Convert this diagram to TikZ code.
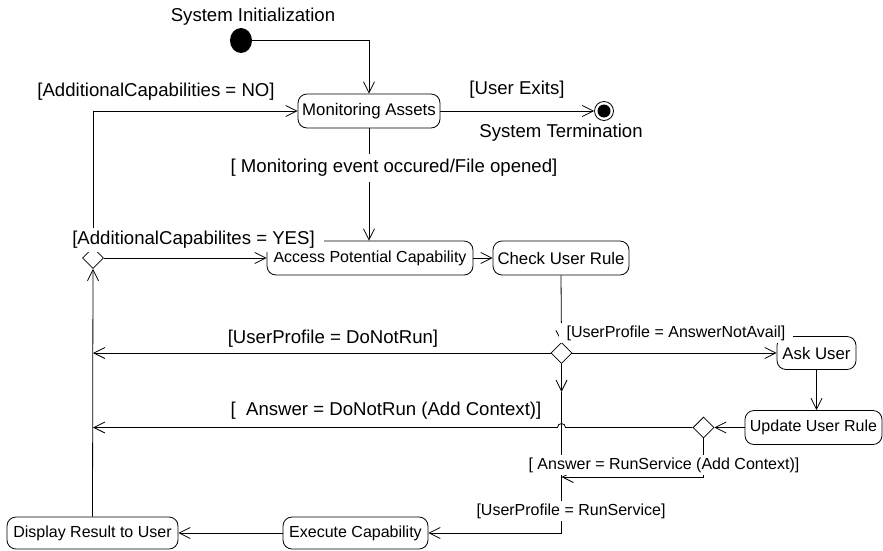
\documentclass[tikz,border=0pt]{standalone}
\usepackage{fontspec}
\setmainfont{Liberation Sans}
\usetikzlibrary{arrows.meta,shapes.geometric}

\begin{document}
\begin{tikzpicture}[x=1pt,y=-1pt,
  flow/.style={draw, line width=0.8pt, -{Straight Barb[length=11pt,width=11pt]}},
  act/.style={draw, line width=0.8pt, rounded corners=9pt, inner sep=0pt,
    align=center, font=\fontsize{16}{19}\selectfont},
  bigact/.style={act, font=\fontsize{16.8}{20}\selectfont},
  decision/.style={draw, diamond, line width=0.8pt, inner sep=0pt,
    minimum width=21pt, minimum height=21pt, fill=white},
  caption/.style={inner sep=0pt, font=\fontsize{18.6}{22}\selectfont},
  guard/.style={fill=white, inner xsep=4pt, inner ysep=3pt,
    font=\fontsize{18.6}{22}\selectfont},
  smallguard/.style={fill=white, inner xsep=4pt, inner ysep=2.5pt,
    font=\fontsize{16}{19}\selectfont}]

\useasboundingbox (0,0) rectangle (883,550);

% activities
\node[bigact, minimum width=142pt, minimum height=34pt] (mon) at (369,111) {Monitoring Assets};
\node[act, minimum width=206pt, minimum height=34pt] (acc) at (370,258) {Access Potential Capability};
\node[bigact, minimum width=136pt, minimum height=34pt] (chk) at (561,258) {Check User Rule};
\node[bigact, minimum width=79pt, minimum height=33pt] (ask) at (816.5,353) {Ask User};
\node[act, minimum width=137pt, minimum height=34pt] (upd) at (813.5,427.5) {Update User Rule};
\node[act, minimum width=171pt, minimum height=32pt] (disp) at (92.5,533) {Display Result to User};
\node[act, minimum width=145pt, minimum height=32pt] (exe) at (355.5,533) {Execute Capability};

% decisions
\node[decision] (d1) at (93,258) {};
\node[decision] (d2) at (561.5,353) {};
\node[decision] (d3) at (703.5,427.5) {};

% initial and final states
\node[fill, ellipse, minimum width=22pt, minimum height=25pt, inner sep=0pt] (init) at (241,40.5) {};
\node[draw, circle, line width=0.8pt, minimum size=19pt, inner sep=0pt] (fin) at (604,111) {};
\fill (fin.center) circle (6.5);

% junction points on the path to the execution step
\coordinate (j1) at (561.5,392);
\coordinate (j2) at (561.5,533);
\coordinate (j3) at (561.5,477);

% transitions
\draw[flow] (init.east) -| (mon.north);
\draw[flow] (mon.east) -- (fin.west);
\draw[flow] (mon.south) -- (mon.south |- acc.north);
\draw[flow] (d1.north) |- (mon.west);
\draw[flow] (d1.east) -- (d1.east -| acc.west);
\draw[flow] (acc.east) -- (chk.west);
\draw[flow] (chk.south) -- (d2.north);
\draw[flow] (d2.west) -- (d2.west -| d1.center);
\draw[flow] (d2.east) -- (d2.east -| ask.west);
\draw[flow] (d2.south) -- (j1);
\draw[flow] (j1) -- (j2) -- (exe.east);
\draw[flow] (ask.south) -- (ask.south |- upd.north);
\draw[flow] (upd.west) -- (d3.east);
\draw[flow] (d3.west) -- ([xshift=4pt]j1 |- d3.west)
  arc[start angle=0, end angle=-180, radius=4] -- (d3.west -| d1.center);
\draw[flow] (d3.south) |- (j3);
\draw[flow] (exe.west) -- (disp.east);
\draw[flow] (disp.north) -- (d1.south);

% captions and guards
\node[caption] at (253,17) {System Initialization};
\node[caption] at (517,90) {[User Exits]};
\node[caption] at (561,133) {System Termination};
\node[caption] at (156,92) {[AdditionalCapabilities = NO]};
\node[guard, inner ysep=5.5pt] at (394,168) {[ Monitoring event occured/File opened]};
\node[guard, inner xsep=9pt] at (193.5,240) {[AdditionalCapabilites = YES]};
\node[caption] at (333,339) {[UserProfile = DoNotRun]};
\node[smallguard, inner xsep=8pt, inner ysep=3pt] at (676,333) {[UserProfile = AnswerNotAvail]};
\node[caption] at (386,411) {[\ \ Answer = DoNotRun (Add Context)]};
\node[smallguard] at (664,465) {[ Answer = RunService (Add Context)]};
\node[smallguard] at (571,511) {[UserProfile = RunService]};

\end{tikzpicture}
\end{document}
